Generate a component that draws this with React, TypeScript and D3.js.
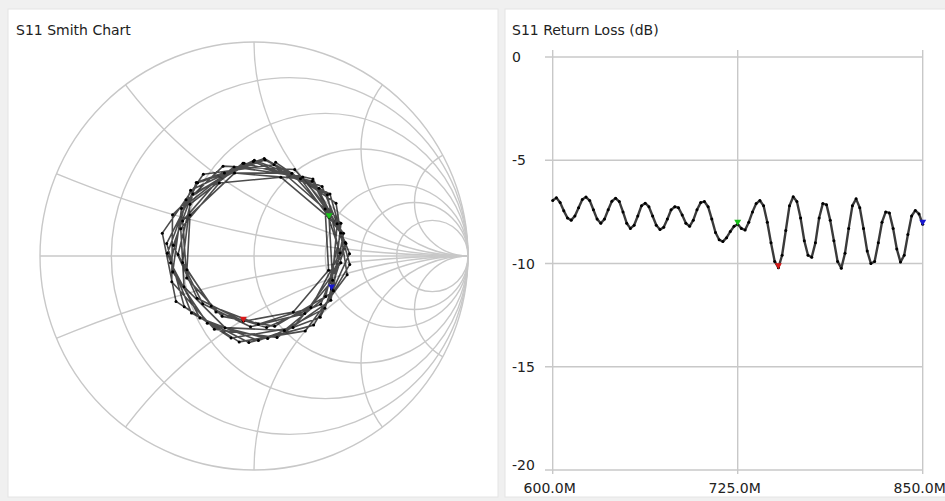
import React from "react";
import * as d3 from "d3";

const W = 945;
const H = 501;

// sweep: 101 points from 600 MHz to 850 MHz
const freqStart = 600e6;
const freqStop = 850e6;

// S11 return loss (dB)
const returnLossDb = [
  -6.95, -6.82, -7.05, -7.45, -7.8, -7.9, -7.7, -7.3, -6.9, -6.78,
  -6.95, -7.4, -7.85, -8.05, -7.85, -7.4, -6.98, -6.84, -7.0, -7.5,
  -8.05, -8.3, -8.15, -7.7, -7.2, -7.08, -7.25, -7.7, -8.15, -8.35,
  -8.25, -7.85, -7.4, -7.25, -7.3, -7.65, -8.05, -8.2, -7.9, -7.4,
  -7.05, -7.0, -7.25, -7.85, -8.5, -8.85, -8.94, -8.75, -8.45, -8.2,
  -8.1, -8.3, -8.38, -8.0, -7.5, -7.1, -6.95, -7.2, -8.0, -9.0,
  -9.9, -10.2, -9.6, -8.4, -7.2, -6.77, -7.0, -7.8, -8.9, -9.6,
  -9.7, -9.0, -7.8, -7.1, -7.15, -7.9, -8.9, -9.9, -10.23, -9.5,
  -8.3, -7.2, -6.87, -7.3, -8.3, -9.4, -10.0, -9.9, -9.0, -8.0,
  -7.5, -7.55, -8.3, -9.3, -9.93, -9.6, -8.6, -7.7, -7.43, -7.6,
  -8.1,
];

// S11 phase (degrees), estimated from where the points sit on the Smith chart
const phaseDeg = [
  77, 32.8, 348.6, 304.4, 260.2, 216, 171.8, 127.6, 83.4, 39.2,
  355, 310.8, 266.6, 222.4, 178.2, 134, 89.8, 45.6, 1.4, 317.2,
  273, 228.8, 184.6, 140.4, 96.2, 52, 7.8, 323.6, 279.4, 235.2,
  191, 146.8, 102.6, 58.4, 14.2, 330, 285.8, 241.6, 197.4, 153.2,
  109, 64.8, 20.6, 336.4, 292.2, 248, 203.8, 159.6, 115.4, 71.2,
  27, 342.8, 298.6, 254.4, 210.2, 166, 121.8, 77.6, 33.4, 349.2,
  305, 260.8, 216.6, 172.4, 128.2, 84, 39.8, 355.6, 311.4, 267.2,
  223, 178.8, 134.6, 90.4, 46.2, 2, 317.8, 273.6, 229.4, 185.2,
  141, 96.8, 52.6, 8.4, 324.2, 280, 235.8, 191.6, 147.4, 103.2,
  59, 14.8, 330.6, 286.4, 242.2, 198, 153.8, 109.6, 65.4, 21.2,
  337,
];

const markerIdx = [50, 61, 100];
const markerColors = ["#18c018", "#d81818", "#1818d0"];

const resistanceCircles = [0.2, 0.5, 1, 2, 3, 5];
const reactanceArcs = [0.2, 0.5, 1, 2, 4];

const dbTicks = [0, -5, -10, -15, -20];
const freqTicks = [600e6, 725e6, 850e6];
const freqTickLabels = ["600.0M", "725.0M", "850.0M"];

const FONT = "'DejaVu Sans', Verdana, sans-serif";
const GRID = "#c8c8c8";
const TEXT = "#222";

function tri(x: number, y: number) {
  return `M${x - 3.5},${y - 4.5}L${x + 3.5},${y - 4.5}L${x},${y + 1.5}Z`;
}

export default function App() {
  const n = returnLossDb.length;
  const freqs = d3.range(n).map((i) => freqStart + (i * (freqStop - freqStart)) / (n - 1));

  // Smith chart geometry
  const cx = 254;
  const cy = 256;
  const R = 214;
  const gx = d3.scaleLinear().domain([-1, 1]).range([cx - R, cx + R]);
  const gy = d3.scaleLinear().domain([-1, 1]).range([cy + R, cy - R]);

  const gamma: [number, number][] = returnLossDb.map((db, i) => {
    const m = Math.pow(10, db / 20);
    const a = (phaseDeg[i] * Math.PI) / 180;
    return [m * Math.cos(a), m * Math.sin(a)];
  });
  const smithLine = d3
    .line<[number, number]>()
    .x((d) => gx(d[0]))
    .y((d) => gy(d[1]));

  // return loss plot
  const fx = d3.scaleLinear().domain([freqStart, freqStop]).range([552.7, 922.7]);
  const fy = d3.scaleLinear().domain([0, -20]).range([57, 470]);
  const rlLine = d3
    .line<number>()
    .x((_, i) => fx(freqs[i]))
    .y((d) => fy(d));

  return (
    <svg
      width={W}
      height={H}
      style={{ position: "absolute", left: 0, top: 0, display: "block" }}
      fontFamily={FONT}
    >
      <defs>
        <clipPath id="unit">
          <circle cx={cx} cy={cy} r={R} />
        </clipPath>
      </defs>
      <rect x={0} y={0} width={W} height={H} fill="#f0f0f0" />
      <rect x={8} y={9} width={490} height={488} fill="#fff" stroke="#e4e4e4" />
      <rect x={505} y={9} width={445} height={488} fill="#fff" stroke="#e4e4e4" />

      {/* Smith chart */}
      <text x={16} y={35} fontSize={14} fill={TEXT}>S11 Smith Chart</text>
      <g fill="none" stroke={GRID} strokeWidth={1.4}>
        <circle cx={cx} cy={cy} r={R} />
        <line x1={gx(-1)} x2={gx(1)} y1={gy(0)} y2={gy(0)} />
        {resistanceCircles.map((r) => (
          <circle key={"r" + r} cx={gx(r / (r + 1))} cy={gy(0)} r={R / (r + 1)} />
        ))}
        <g clipPath="url(#unit)">
          {reactanceArcs.map((x) => (
            <g key={"x" + x}>
              <circle cx={gx(1)} cy={gy(1 / x)} r={R / x} />
              <circle cx={gx(1)} cy={gy(-1 / x)} r={R / x} />
            </g>
          ))}
        </g>
      </g>
      <path d={smithLine(gamma) || ""} fill="none" stroke="#000" strokeOpacity={0.7} strokeWidth={1.6} strokeLinejoin="round" />
      {gamma.map((d, i) => (
        <circle key={"sp" + i} cx={gx(d[0])} cy={gy(d[1])} r={1.5} fill="#000" />
      ))}
      {markerIdx.map((idx, k) => (
        <path key={"sm" + k} d={tri(gx(gamma[idx][0]), gy(gamma[idx][1]))} fill={markerColors[k]} />
      ))}

      {/* Return loss */}
      <text x={512} y={35} fontSize={14} fill={TEXT}>S11 Return Loss (dB)</text>
      <g stroke={GRID} strokeWidth={1.4}>
        {dbTicks.map((t) => (
          <line key={"h" + t} x1={545} x2={fx(freqStop)} y1={fy(t)} y2={fy(t)} />
        ))}
        {freqTicks.map((f) => (
          <line key={"v" + f} x1={fx(f)} x2={fx(f)} y1={50} y2={474} />
        ))}
      </g>
      {dbTicks.map((t, i) => (
        <text key={"yl" + t} x={512} y={i === dbTicks.length - 1 ? fy(t) : fy(t) + 5} fontSize={14} fill={TEXT}>
          {t}
        </text>
      ))}
      {freqTicks.map((f, i) => (
        <text key={"xl" + f} x={fx(f) - 3} y={493} fontSize={14} fill={TEXT} textAnchor="middle">
          {freqTickLabels[i]}
        </text>
      ))}
      <path d={rlLine(returnLossDb) || ""} fill="none" stroke="#3a3a3a" strokeWidth={2.4} strokeLinejoin="round" />
      {returnLossDb.map((d, i) => (
        <circle key={"rp" + i} cx={fx(freqs[i])} cy={fy(d)} r={1.5} fill="#000" />
      ))}
      {markerIdx.map((idx, k) => (
        <path key={"rm" + k} d={tri(fx(freqs[idx]), fy(returnLossDb[idx]))} fill={markerColors[k]} />
      ))}
    </svg>
  );
}
